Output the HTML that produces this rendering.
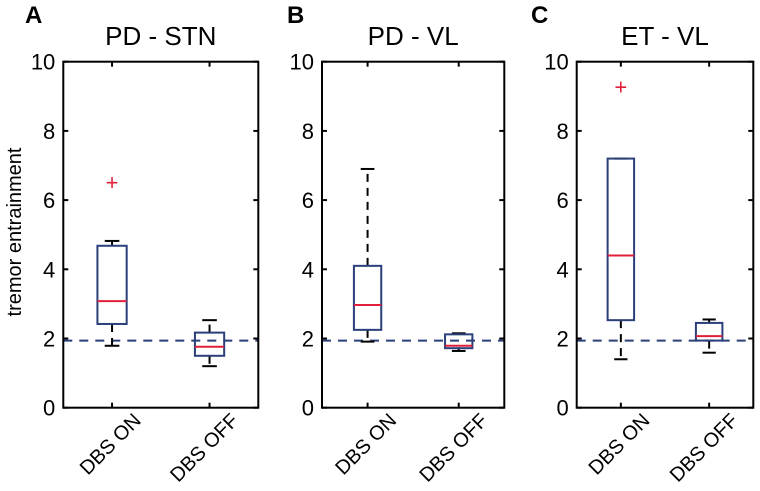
<!DOCTYPE html>
<html><head><meta charset="utf-8"><style>
html,body{margin:0;padding:0;background:#fff;}
svg{display:block;font-family:"Liberation Sans",Arial,sans-serif;}
</style></head><body>
<svg id="fig" width="760" height="491" viewBox="0 0 760 491"></svg>
<script>
const categories = ["DBS ON","DBS OFF"];
const panelTitles = ["PD - STN","PD - VL","ET - VL"];
const panelLetters = ["A","B","C"];
const yTicks = [0,2,4,6,8,10];
// [whiskerLow, q1, median, q3, whiskerHigh]
const statsA = [[1.79,2.42,3.08,4.68,4.82],[1.2,1.5,1.76,2.17,2.53]];
const statsB = [[1.91,2.25,2.97,4.1,6.9],[1.64,1.72,1.79,2.12,2.15]];
const statsC = [[1.4,2.53,4.4,7.2,7.2],[1.59,1.94,2.07,2.45,2.55]];
const outliersA = [[6.5],[]];
const outliersB = [[],[]];
const outliersC = [[9.25],[]];
const refLevel = 1.94;

const panels=[{l:63.3,r:258.3,s:statsA,o:outliersA,lx:25},{l:322,r:504.3,s:statsB,o:outliersB,lx:287},{l:576.7,r:753.3,s:statsC,o:outliersC,lx:531}];
const axTop=61.7,axBot=407.7;
const svg=document.getElementById('fig');
const NS="http://www.w3.org/2000/svg";
function mk(t,a,p){const e=document.createElementNS(NS,t);for(const k in a)e.setAttribute(k,a[k]);(p||svg).appendChild(e);return e;}
const y=v=>axBot-(v/10)*(axBot-axTop);
panels.forEach((P,pi)=>{
  const g=mk('g',{});
  
  
  const x=c=>P.l+(c*2+1)/4*(P.r-P.l);
  const bw=0.15*(P.r-P.l)/2;
  const rl=mk('line',{x1:P.l,x2:P.r,y1:y(refLevel),y2:y(refLevel),stroke:'#2b3f7a','stroke-width':2,'stroke-dasharray':'9,7'},g);
  
  
  P.s.forEach((st,ci)=>{
    const cx=x(ci);
    const bg=mk('g',{},g);
    
    
    mk('line',{x1:cx,x2:cx,y1:y(st[3]),y2:y(st[4]),stroke:'#000','stroke-width':2,'stroke-dasharray':'8,6'},bg);
    mk('line',{x1:cx,x2:cx,y1:y(st[1]),y2:y(st[0]),stroke:'#000','stroke-width':2,'stroke-dasharray':'8,6'},bg);
    mk('line',{x1:cx-bw/2,x2:cx+bw/2,y1:y(st[4]),y2:y(st[4]),stroke:'#000','stroke-width':2},bg);
    mk('line',{x1:cx-bw/2,x2:cx+bw/2,y1:y(st[0]),y2:y(st[0]),stroke:'#000','stroke-width':2},bg);
    mk('rect',{x:cx-bw,y:y(st[3]),width:2*bw,height:y(st[1])-y(st[3]),fill:'none',stroke:'#2b3f7a','stroke-width':2},bg);
    mk('line',{x1:cx-bw,x2:cx+bw,y1:y(st[2]),y2:y(st[2]),stroke:'#e0203a','stroke-width':2},bg);
    P.o[ci].forEach(v=>{
      const o=mk('text',{x:cx,y:y(v)+7,'text-anchor':'middle','font-size':22,fill:'#e0203a'},bg);o.textContent='+';
      
      
    });
    mk('line',{x1:cx,x2:cx,y1:axBot,y2:axBot-5,stroke:'#000','stroke-width':2},g);
    mk('line',{x1:cx,x2:cx,y1:axTop,y2:axTop+5,stroke:'#000','stroke-width':2},g);
    const tl=mk('text',{x:0,y:0,'text-anchor':'end','font-size':20,transform:`translate(${cx+30},${axBot+14}) rotate(-45)`},g);
    tl.textContent=categories[ci];
    
    
  });
  yTicks.forEach(v=>{
    mk('line',{x1:P.l,x2:P.l+5,y1:y(v),y2:y(v),stroke:'#000','stroke-width':2},g);
    mk('line',{x1:P.r,x2:P.r-5,y1:y(v),y2:y(v),stroke:'#000','stroke-width':2},g);
    const t=mk('text',{x:P.l-8,y:y(v)+8,'text-anchor':'end','font-size':22},g);t.textContent=v;
    
    
  });
  const ax=mk('rect',{x:P.l,y:axTop,width:P.r-P.l,height:axBot-axTop,fill:'none',stroke:'#000','stroke-width':2},g);
  
  
  const ti=mk('text',{x:(P.l+P.r)/2,y:45,'text-anchor':'middle','font-size':26},g);ti.textContent=panelTitles[pi];
  
  
  const le=mk('text',{x:P.lx,y:23,'font-size':24,'font-weight':'bold'},g);le.textContent=panelLetters[pi];
  
  
});
const yl=mk('text',{x:0,y:0,'text-anchor':'middle','font-size':20,transform:'translate(21,232) rotate(-90)'});
yl.textContent='tremor entrainment';


</script>
</body></html>
